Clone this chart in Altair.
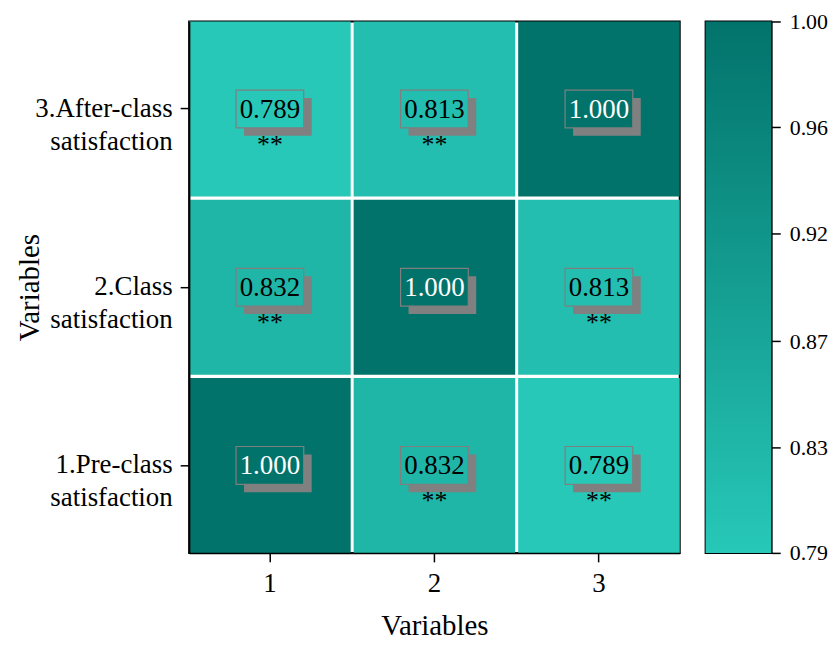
import altair as alt
import pandas as pd

# ---- data ----
variables = ["1.Pre-class satisfaction", "2.Class satisfaction", "3.After-class satisfaction"]
x_labels = ["1", "2", "3"]
corr = [
    [1.000, 0.832, 0.789],
    [0.832, 1.000, 0.813],
    [0.789, 0.813, 1.000],
]
sig = [
    ["", "**", "**"],
    ["**", "", "**"],
    ["**", "**", ""],
]
colorbar_ticks = [0.789, 0.831, 0.873, 0.916, 0.958, 1.0]
low_color = "#27C8B8"
high_color = "#02736B"

rows = []
for i, v in enumerate(variables):
    for j, xl in enumerate(x_labels):
        rows.append({"x": xl, "y": v, "value": corr[i][j], "stars": sig[i][j],
                     "label": f"{corr[i][j]:.3f}"})
df = pd.DataFrame(rows)

vmin = min(min(r) for r in corr)
vmax = max(max(r) for r in corr)

FONT = "Liberation Serif"
W, H = 493, 534

xenc = alt.X("x:O", sort=x_labels, title="Variables",
             scale=alt.Scale(paddingInner=0.018, paddingOuter=0),
             axis=alt.Axis(labelAngle=0, tickSize=9, labelPadding=9, titlePadding=15))
yenc = alt.Y("y:O", sort=variables[::-1], title="Variables",
             scale=alt.Scale(paddingInner=0.018, paddingOuter=0),
             axis=alt.Axis(tickSize=9, labelPadding=8, labelExpr="split(datum.label, ' ')",
                           labelLineHeight=33, labelAlign="right", titleX=-160,
                           titleBaseline="middle", titleAngle=-90))
cscale = alt.Scale(domain=[vmin, vmax], range=[low_color, high_color])

base = alt.Chart(df).encode(x=xenc, y=yenc)

cells = base.mark_rect().encode(color=alt.Color("value:Q", scale=cscale, legend=None))
shadow = base.mark_rect(width=68, height=38, xOffset=8, yOffset=8, color="#808080")
box = base.mark_rect(width=68, height=38, stroke="#7F7F7F", strokeWidth=1.2).encode(
    color=alt.Color("value:Q", scale=cscale, legend=None))
nums = base.mark_text(font=FONT, fontSize=27, baseline="alphabetic", dy=9).encode(
    text="label:N",
    color=alt.condition(alt.datum.value >= 0.999, alt.value("white"), alt.value("black")))
stars = base.mark_text(font=FONT, fontSize=26, baseline="alphabetic", dy=44, color="black").encode(
    text="stars:N")

heat = alt.layer(cells, shadow, box, nums, stars).properties(width=W, height=H)

cb_df = pd.DataFrame({"lo": [vmin], "hi": [vmax]})
grad = alt.LinearGradient(
    gradient="linear", x1=0, y1=1, x2=0, y2=0,
    stops=[alt.GradientStop(color=low_color, offset=0),
           alt.GradientStop(color=high_color, offset=1)])
colorbar = alt.Chart(cb_df).mark_rect(color=grad).encode(
    x=alt.value(0), x2=alt.value(66),
    y=alt.Y("lo:Q", scale=alt.Scale(domain=[vmin, vmax], nice=False, zero=False),
            axis=alt.Axis(orient="right", values=colorbar_ticks, format=".2f",
                          tickSize=9, labelPadding=9, labelFontSize=22,
                          title=None, grid=False)),
    y2="hi:Q",
).properties(width=66, height=H)

chart = alt.hconcat(heat, colorbar, spacing=24).properties(
    padding={"left": 7, "top": 0, "right": 0, "bottom": 0},
    background="white",
).configure_view(stroke="black", strokeWidth=2).configure_axis(
    labelFont=FONT, titleFont=FONT, labelFontSize=27, titleFontSize=29,
    titleFontWeight="normal", labelColor="black", titleColor="black",
    domainColor="black", tickColor="black", domainWidth=1.5, tickWidth=1.5, grid=False
)

chart.save("out.html", embed_options={"renderer": "svg", "actions": False})
